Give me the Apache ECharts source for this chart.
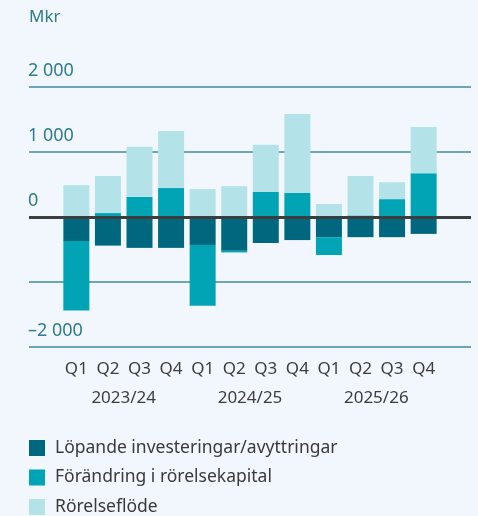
<!DOCTYPE html>
<html>
<head>
<meta charset="utf-8">
<script src="https://cdn.jsdelivr.net/npm/echarts@6/dist/echarts.min.js"></script>
<style>
  html, body { margin: 0; padding: 0; background: #f2f7fd; }
  #main { width: 478px; height: 516px; }
</style>
</head>
<body>
<div id="main"></div>
<script>
// kvartal och räkenskapsår
var quarters = ['Q1', 'Q2', 'Q3', 'Q4', 'Q1', 'Q2', 'Q3', 'Q4', 'Q1', 'Q2', 'Q3', 'Q4'];
var years = ['2023/24', '2024/25', '2025/26'];

// Mkr
var lopande = [-370, -440, -475, -475, -430, -520, -400, -355, -310, -310, -310, -260];
var forandring = [-1070, 60, 310, 445, -935, -25, 385, 370, -275, 25, 275, 675];
var rorelseflode = [490, 570, 770, 880, 430, 475, 725, 1215, 200, 605, 260, 710];

var yTicks = [-2000, -1000, 0, 1000, 2000];
var yTickLabels = ['\u20132 000', '', '0', '1 000', '2 000'];

// en tom plats i varje ände, så att stödlinjerna går utanför staplarna
function pad(arr) { return [null].concat(arr).concat([null]); }
var cats = [''].concat(quarters).concat(['']);

// årsetikett mitt i varje grupp om fyra kvartal
var yearAt = {};
years.forEach(function (y, i) { yearAt[1 + i * 4 + 2] = y; });

var font = 'Noto Sans';
var myChart = echarts.init(document.getElementById('main'));

myChart.setOption({
    backgroundColor: '#f2f7fd',
    animation: false,
    textStyle: { fontFamily: font },
    title: {
        text: 'Mkr', left: 29, top: 9, padding: 0,
        textStyle: { fontFamily: font, fontSize: 17, fontWeight: 'normal', color: '#2e7d8f' }
    },
    grid: { left: 29, right: 7, top: 87, height: 260, containLabel: false },
    legend: {
        orient: 'vertical', left: 29, top: 439, height: 120, padding: 0,
        itemWidth: 16, itemHeight: 16, itemGap: 11.5,
        icon: 'rect',
        textStyle: { fontFamily: font, fontSize: 17.5, lineHeight: 16, color: '#3a3a3a', padding: [0, 0, 0, 5] },
        data: ['Löpande investeringar/avyttringar', 'Förändring i rörelsekapital', 'Rörelseflöde']
    },
    xAxis: [{
        type: 'category',
        data: cats,
        axisLine: { show: false, onZero: false },
        axisTick: { show: false },
        axisLabel: { interval: 0, margin: 14, fontSize: 17, color: '#3d3d3d' }
    }, {
        type: 'value',
        position: 'bottom',
        offset: 29,
        min: 0, max: 14, interval: 1,
        axisLine: { show: false, onZero: false },
        axisTick: { show: false },
        splitLine: { show: false },
        axisLabel: {
            margin: 14, fontSize: 17, color: '#3d3d3d',
            showMinLabel: true, showMaxLabel: true,
            formatter: function (v) { return yearAt[v] || ''; }
        }
    }],
    yAxis: {
        type: 'value',
        min: -2000, max: 2000, interval: 1000,
        axisLine: { show: false },
        axisTick: { show: false },
        splitLine: { lineStyle: { color: '#3f8b9c', width: 1.5 } },
        axisLabel: {
            inside: true, margin: -1,
            verticalAlign: 'bottom', lineHeight: 18, padding: [0, 0, 7, 0],
            fontSize: 18, color: '#2e7d8f',
            formatter: function (v) { return yTickLabels[yTicks.indexOf(v)]; }
        }
    },
    series: [{
        name: 'Löpande investeringar/avyttringar',
        type: 'bar', stack: 'flow', barWidth: 26,
        itemStyle: { color: '#00677f' },
        data: pad(lopande),
        markLine: {
            silent: true, symbol: 'none', z: 10,
            label: { show: false },
            lineStyle: { type: 'solid', color: '#3a3e3f', width: 3 },
            data: [{ yAxis: 0 }]
        }
    }, {
        name: 'Förändring i rörelsekapital',
        type: 'bar', stack: 'flow', barWidth: 26,
        itemStyle: { color: '#00a4b4' },
        data: pad(forandring)
    }, {
        name: 'Rörelseflöde',
        type: 'bar', stack: 'flow', barWidth: 26,
        itemStyle: { color: '#b3e3e8' },
        data: pad(rorelseflode)
    }]
});
</script>
</body>
</html>
